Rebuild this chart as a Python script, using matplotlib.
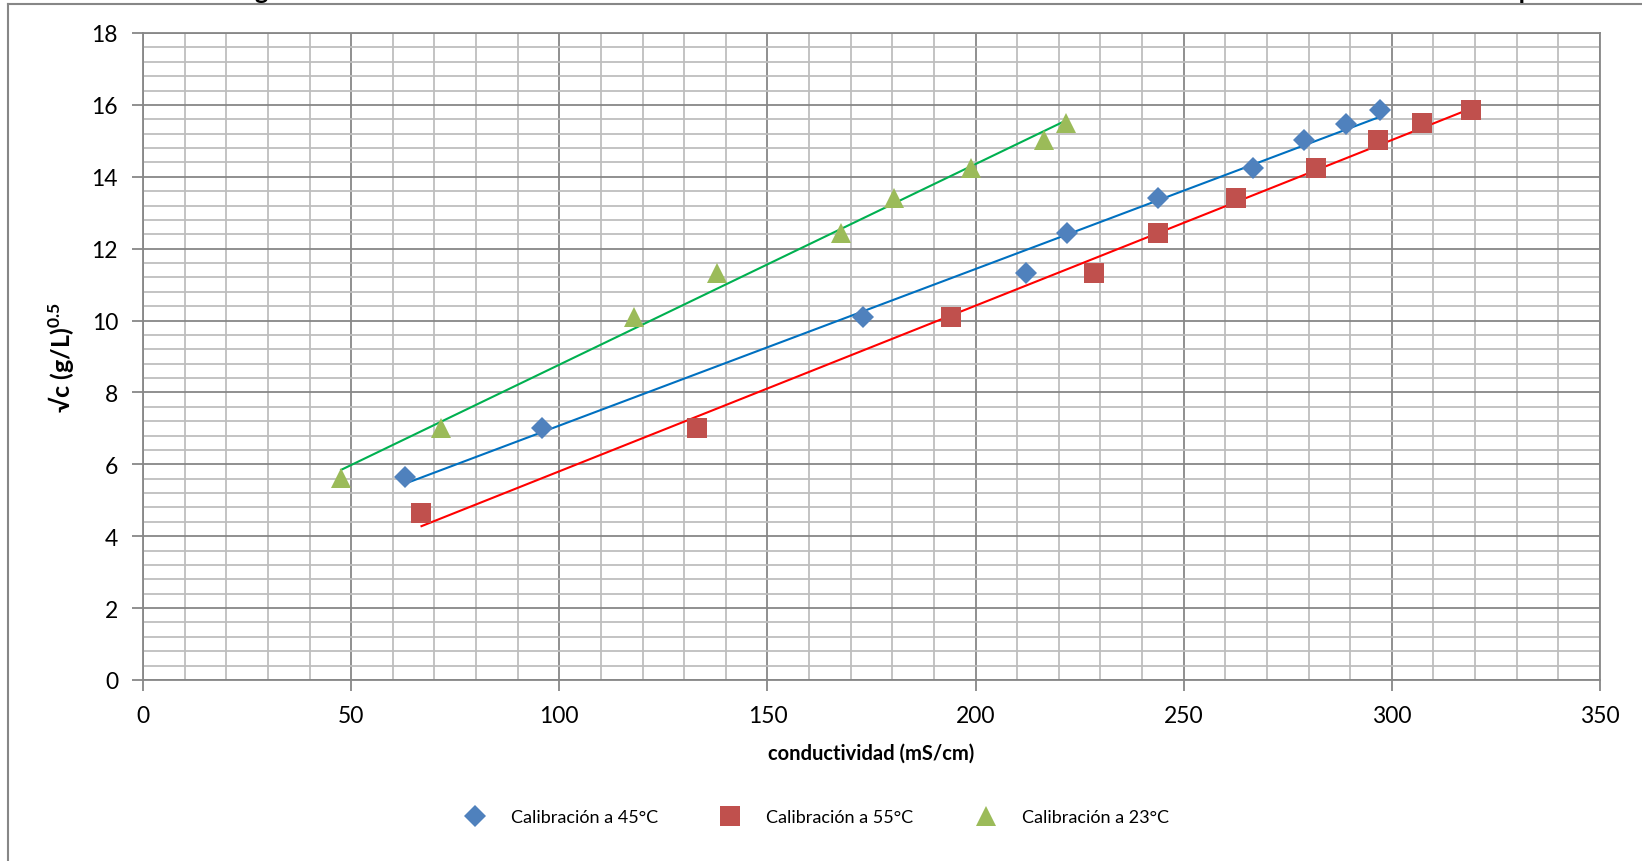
import numpy as np
import matplotlib.pyplot as plt
from matplotlib.lines import Line2D
from matplotlib.ticker import MultipleLocator

# Datos
cond_45 = [62.9, 95.9, 172.9, 212.1, 221.9, 243.8, 266.7, 278.8, 289.1, 297.2]
raiz_45 = [5.66, 7.00, 10.09, 11.32, 12.43, 13.42, 14.24, 15.02, 15.46, 15.87]

cond_55 = [66.9, 133.1, 194.0, 228.5, 243.8, 262.5, 281.8, 296.7, 307.2, 319.1]
raiz_55 = [4.64, 7.00, 10.09, 11.32, 12.43, 13.42, 14.24, 15.02, 15.49, 15.87]

cond_23 = [47.6, 71.7, 118.0, 137.9, 167.6, 180.4, 199.0, 216.4, 221.7]
raiz_23 = [5.63, 7.00, 10.09, 11.32, 12.43, 13.42, 14.24, 15.02, 15.49]

series = [
    ("Calibración a 45°C", cond_45, raiz_45, "D", "#4F81BD", "#0070C0", 11.5),
    ("Calibración a 55°C", cond_55, raiz_55, "s", "#C0504D", "#FF0000", 15),
    ("Calibración a 23°C", cond_23, raiz_23, "^", "#9BBB59", "#00B050", 15),
]

plt.rcParams['font.family'] = ['Lato', 'DejaVu Sans']
plt.rcParams['mathtext.fontset'] = 'custom'
plt.rcParams['mathtext.bf'] = 'Lato:bold'

fig = plt.figure(figsize=(16.42, 8.62), dpi=100)
ax = fig.add_axes([143 / 1642, 1 - 681 / 862, (1600 - 143) / 1642, (681 - 34) / 862])

handles = []
for name, x, y, mk, mcol, lcol, ms in series:
    h, = ax.plot(x, y, linestyle='none', marker=mk, color=mcol, markersize=ms,
                 markeredgewidth=0, label=name, zorder=3)
    handles.append(h)
    # linea de tendencia lineal
    m, b = np.polyfit(x, y, 1)
    xs = np.array([min(x), max(x)])
    ax.plot(xs, m * xs + b, color=lcol, linewidth=1.5, zorder=2)

ax.set_xlim(0, 350)
ax.set_ylim(0, 18)
ax.xaxis.set_major_locator(MultipleLocator(50))
ax.xaxis.set_minor_locator(MultipleLocator(10))
ax.yaxis.set_major_locator(MultipleLocator(2))
ax.yaxis.set_minor_locator(MultipleLocator(0.4))

ax.grid(which='major', color='#878787', linewidth=1.3)
ax.grid(which='minor', color='#BEBEBE', linewidth=1.3)
ax.set_axisbelow(True)
for s in ax.spines.values():
    s.set_color('#878787')
    s.set_linewidth(1.3)

ax.tick_params(which='major', direction='out', length=8, width=1.3, color='#878787',
               labelsize=16.5, pad=10)
ax.tick_params(which='minor', length=0)

ax.set_xlabel('conductividad (mS/cm)', fontsize=14.5, fontweight='bold', labelpad=12)
ax.set_ylabel(r'√c (g/L)$^{\mathbf{0.5}}$', fontsize=18, fontweight='bold', labelpad=10)

fig.legend(handles=handles, loc='center', bbox_to_anchor=(0.495, 1 - 818 / 862), ncol=3,
           frameon=False, fontsize=13, columnspacing=3.0, handletextpad=1.0)

# titulo cortado en la parte superior (como en la imagen original)
fig.text(0.52, 1 + 1 / 862,
         'Gráfica N°5: Regresión lineal de la conductividad contra la concentración. '
         'Resultado del estudio de la calibración a diferentes temperaturas',
         ha='center', va='baseline', fontsize=18, fontweight='bold')

# marco del grafico
fig.add_artist(Line2D([8 / 1642, 8 / 1642], [0, 1 - 5 / 862], color='#878787', linewidth=1.5))
fig.add_artist(Line2D([8 / 1642, 1], [1 - 5 / 862, 1 - 5 / 862], color='#878787', linewidth=1.5))

fig.savefig('out.png', dpi=100)
